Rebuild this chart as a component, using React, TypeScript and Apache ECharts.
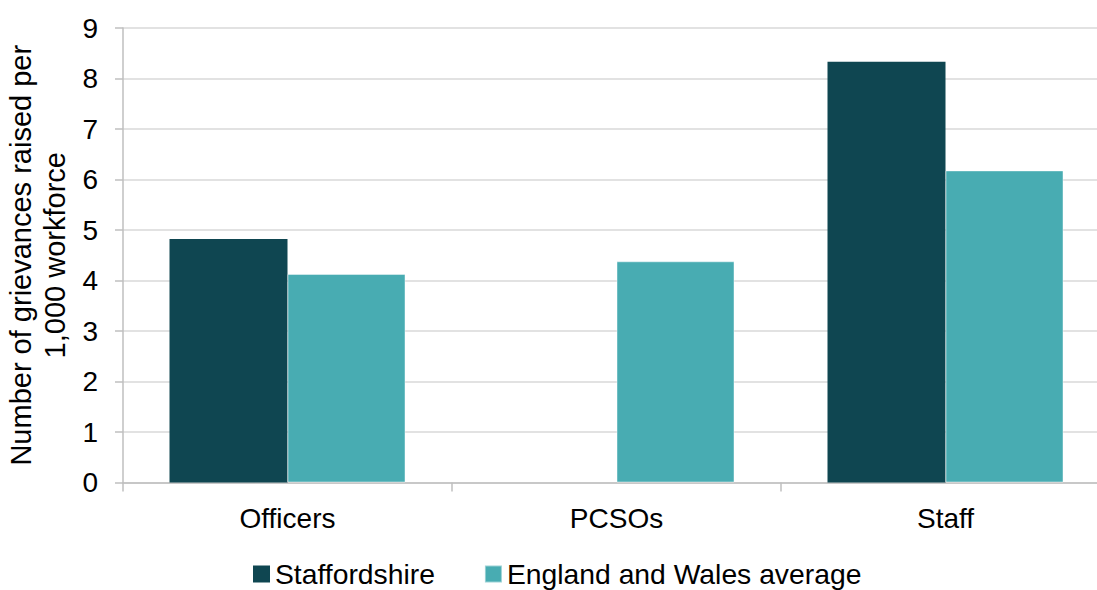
import React, { useEffect, useRef } from "react";
import * as echarts from "echarts";

const categories = ["Officers", "PCSOs", "Staff"];
const staffordshire: (number | null)[] = [4.82, null, 8.33];
const englandWales = [4.13, 4.38, 6.18];
const seriesNames = ["Staffordshire", "England and Wales average"];
const yAxisTitle = "Number of grievances raised per\n1,000 workforce";

const FONT = "'Liberation Sans', Arial, sans-serif";

export default function App() {
  const ref = useRef<HTMLDivElement>(null);
  useEffect(() => {
    if (!ref.current) return;
    const chart = echarts.init(ref.current, undefined, { renderer: "svg" });
    chart.setOption({
      animation: false,
      textStyle: { fontFamily: FONT, color: "#000" },
      grid: {
        left: 123,
        top: 28,
        height: 454.5,
        width: 987,
        containLabel: false,
        outerBoundsMode: "none",
      },
      legend: {
        left: 248,
        top: 555,
        itemWidth: 17,
        itemHeight: 17,
        itemGap: 49,
        icon: "rect",
        textStyle: { fontSize: 28.3, fontFamily: FONT, color: "#000" },
        data: seriesNames,
      },
      xAxis: {
        type: "category",
        data: categories,
        axisLine: { lineStyle: { color: "#bfbfbf", width: 1.5 } },
        axisTick: { show: true, length: 9, lineStyle: { color: "#bfbfbf", width: 1.5 } },
        axisLabel: { fontSize: 28, fontFamily: FONT, color: "#000", margin: 22 },
      },
      yAxis: {
        type: "value",
        min: 0,
        max: 9,
        interval: 1,
        name: yAxisTitle,
        nameLocation: "middle",
        nameRotate: 90,
        nameGap: 50,
        nameTextStyle: { fontSize: 29, fontFamily: FONT, color: "#000", lineHeight: 34, align: "center" },
        axisLine: { show: true, lineStyle: { color: "#bfbfbf", width: 1.5 } },
        axisTick: { show: true, length: 8, lineStyle: { color: "#bfbfbf", width: 1.5 } },
        axisLabel: { fontSize: 28, fontFamily: FONT, color: "#000", margin: 25 },
        splitLine: { lineStyle: { color: "#d9d9d9", width: 1.5 } },
      },
      series: [
        {
          name: seriesNames[0],
          type: "bar",
          data: staffordshire,
          barWidth: 118,
          barGap: "0%",
          itemStyle: { color: "#0F4651" },
        },
        {
          name: seriesNames[1],
          type: "bar",
          data: englandWales,
          barWidth: 118,
          barGap: "0%",
          itemStyle: { color: "#48ACB2", borderColor: "rgba(255,255,255,0.45)", borderWidth: 1 },
        },
      ],
    });
    return () => chart.dispose();
  }, []);
  return (
    <div
      ref={ref}
      style={{ position: "fixed", left: 0, top: 0, width: 1097, height: 590, background: "#fff" }}
    />
  );
}
